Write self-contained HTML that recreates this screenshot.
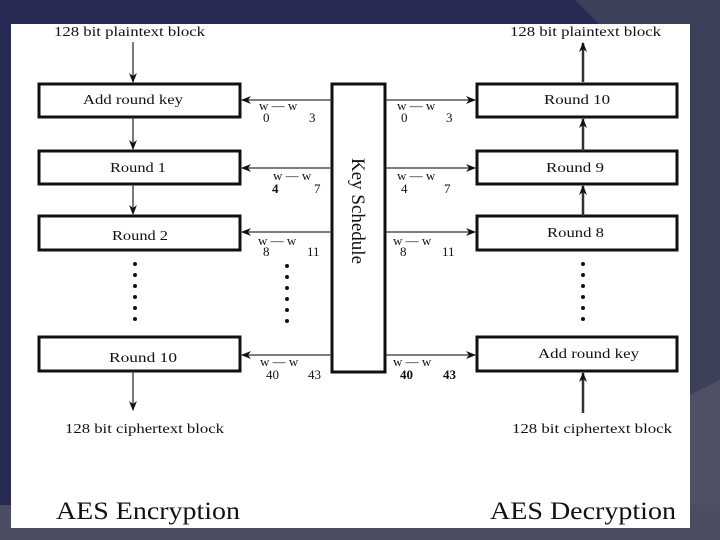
<!DOCTYPE html>
<html><head><style>
body{margin:0;width:720px;height:540px;overflow:hidden;background:#272a52;}
svg{display:block}
text{font-family:"Liberation Serif",serif;fill:#111}
</style></head><body>
<svg width="720" height="540" xmlns="http://www.w3.org/2000/svg">
<rect width="720" height="540" fill="#272a52"/>
<polygon points="575,0 720,0 720,540 690,540 690,30 605,30" fill="#3d4059"/>
<polygon points="690,395 720,380 720,540 690,540" fill="#4e5064"/>
<rect x="0" y="505" width="720" height="35" fill="#4b4d62"/>
<rect x="11" y="24" width="679" height="504" fill="#fff"/>
<defs><marker id="a" markerWidth="10" markerHeight="8" refX="9" refY="4" orient="auto" markerUnits="userSpaceOnUse"><path d="M0,0 L10,4 L0,8 L3,4 Z" fill="#111"/></marker></defs>
<g font-size="14" lengthAdjust="spacingAndGlyphs">
<text x="54" y="36" textLength="151" lengthAdjust="spacingAndGlyphs">128 bit plaintext block</text>
<text x="510" y="36" textLength="151" lengthAdjust="spacingAndGlyphs">128 bit plaintext block</text>
<text x="65" y="433" textLength="159" lengthAdjust="spacingAndGlyphs">128 bit ciphertext block</text>
<text x="512" y="433" textLength="160" lengthAdjust="spacingAndGlyphs">128 bit ciphertext block</text>
</g>
<text x="56" y="519" font-size="25" textLength="184" lengthAdjust="spacingAndGlyphs">AES Encryption</text>
<text x="490" y="519" font-size="25" textLength="186" lengthAdjust="spacingAndGlyphs">AES Decryption</text>
<g fill="none" stroke="#111" stroke-width="3">
<rect x="39" y="84" width="201" height="33"/>
<rect x="39" y="151" width="201" height="33"/>
<rect x="39" y="216" width="201" height="34"/>
<rect x="39" y="337" width="201" height="34"/>
<rect x="477" y="84" width="200" height="33"/>
<rect x="477" y="151" width="200" height="33"/>
<rect x="477" y="216" width="200" height="34"/>
<rect x="477" y="337" width="200" height="34"/>
<rect x="332" y="84" width="53" height="288"/>
</g>
<g font-size="14">
<text x="83" y="104" textLength="100" lengthAdjust="spacingAndGlyphs">Add round key</text>
<text x="110" y="172" textLength="56" lengthAdjust="spacingAndGlyphs">Round 1</text>
<text x="112" y="240" textLength="56" lengthAdjust="spacingAndGlyphs">Round 2</text>
<text x="109" y="362" textLength="68" lengthAdjust="spacingAndGlyphs">Round 10</text>
<text x="544" y="104" textLength="66" lengthAdjust="spacingAndGlyphs">Round 10</text>
<text x="546" y="172" textLength="58" lengthAdjust="spacingAndGlyphs">Round 9</text>
<text x="547" y="237" textLength="57" lengthAdjust="spacingAndGlyphs">Round 8</text>
<text x="538" y="358" textLength="101" lengthAdjust="spacingAndGlyphs">Add round key</text>
</g>
<text transform="translate(352,211) rotate(90)" font-size="19" text-anchor="middle">Key Schedule</text>
<g stroke="#333" stroke-width="1.3" marker-end="url(#a)">
<line x1="332" y1="100" x2="242" y2="100"/>
<line x1="332" y1="168" x2="242" y2="168"/>
<line x1="332" y1="232" x2="242" y2="232"/>
<line x1="332" y1="355" x2="242" y2="355"/>
<line x1="386" y1="100" x2="475" y2="100"/>
<line x1="386" y1="168" x2="475" y2="168"/>
<line x1="386" y1="232" x2="475" y2="232"/>
<line x1="386" y1="355" x2="475" y2="355"/>
<line x1="133" y1="42" x2="133" y2="82"/>
<line x1="133" y1="117" x2="133" y2="149"/>
<line x1="133" y1="184" x2="133" y2="214"/>
<line x1="133" y1="371" x2="133" y2="410"/>
<line x1="583" y1="82" x2="583" y2="43" stroke-width="2.5"/>
<line x1="583" y1="151" x2="583" y2="119" stroke-width="2.5"/>
<line x1="583" y1="216" x2="583" y2="186" stroke-width="2.5"/>
<line x1="583" y1="413" x2="583" y2="373" stroke-width="2.5"/>
</g>
<g font-size="13">
<text x="259" y="110">w — w</text><text x="263" y="122">0</text><text x="309" y="122">3</text>
<text x="397" y="110">w — w</text><text x="401" y="122">0</text><text x="446" y="122">3</text>
<text x="273" y="180">w — w</text><text x="272" y="193" font-weight="bold">4</text><text x="314" y="193">7</text>
<text x="397" y="180">w — w</text><text x="401" y="193">4</text><text x="444" y="193">7</text>
<text x="258" y="245">w — w</text><text x="263" y="256">8</text><text x="307" y="256">11</text>
<text x="393" y="245">w — w</text><text x="400" y="256">8</text><text x="442" y="256">11</text>
<text x="260" y="366">w — w</text><text x="266" y="379">40</text><text x="308" y="379">43</text>
<text x="393" y="366">w — w</text><text x="400" y="379" font-weight="bold">40</text><text x="443" y="379" font-weight="bold">43</text>
</g>
<g fill="#111">
<circle cx="135" cy="264" r="2"/><circle cx="135" cy="275" r="2"/><circle cx="135" cy="286" r="2"/><circle cx="135" cy="297" r="2"/><circle cx="135" cy="308" r="2"/><circle cx="135" cy="319" r="2"/>
<circle cx="287" cy="266" r="2"/><circle cx="287" cy="277" r="2"/><circle cx="287" cy="288" r="2"/><circle cx="287" cy="299" r="2"/><circle cx="287" cy="310" r="2"/><circle cx="287" cy="321" r="2"/>
<circle cx="583" cy="264" r="2"/><circle cx="583" cy="275" r="2"/><circle cx="583" cy="286" r="2"/><circle cx="583" cy="297" r="2"/><circle cx="583" cy="308" r="2"/><circle cx="583" cy="319" r="2"/>
</g>
</svg>
</body></html>
